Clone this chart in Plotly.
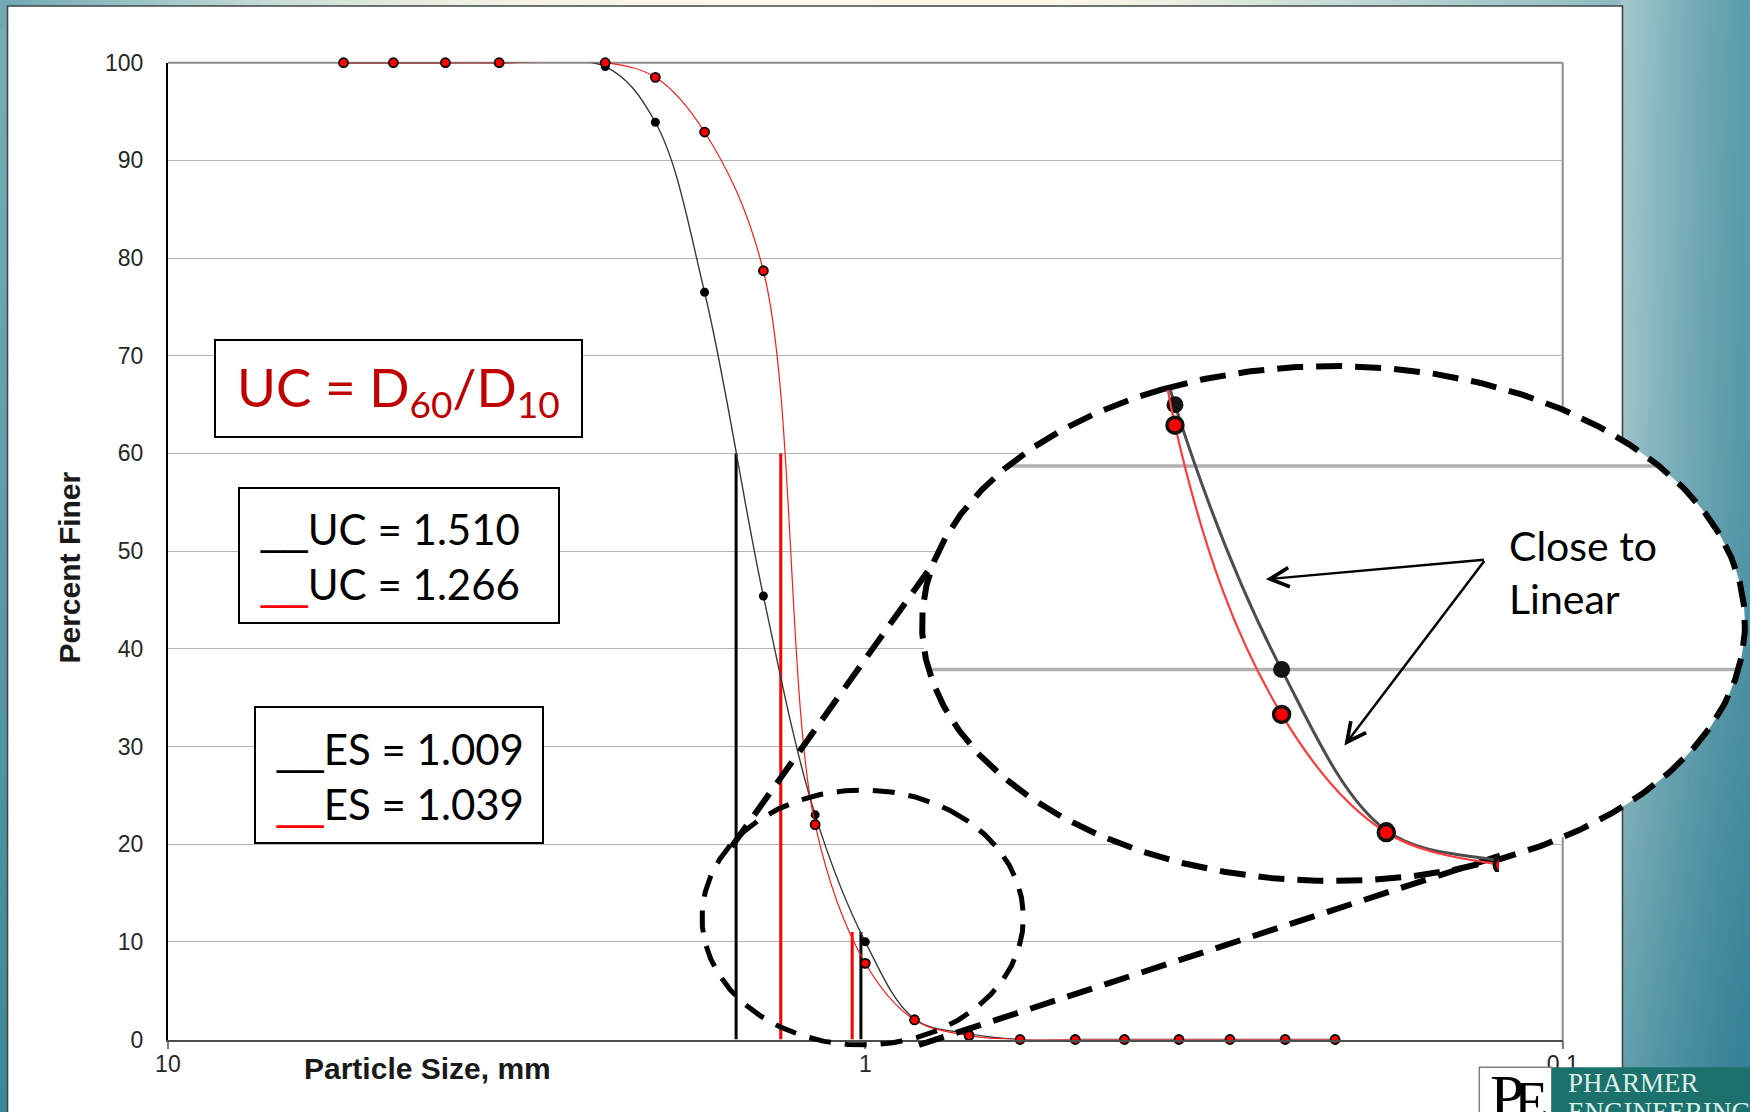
import base64
import struct
import zlib

import numpy as np
import plotly.graph_objects as go

# ---------------------------------------------------------------------------
# Sieve analysis data (particle size in mm, cumulative percent finer)
# ---------------------------------------------------------------------------
sieve_mm = [5.6, 4.75, 4.0, 3.35, 2.36, 2.0, 1.7, 1.4, 1.18, 1.0,
            0.85, 0.71, 0.6, 0.5, 0.425, 0.355, 0.3, 0.25, 0.212]
finer_black = [100, 100, 100, 100, 99.6, 93.9, 76.5, 45.4, 23.0, 10.0,
               2.1, 0.6, 0, 0, 0, 0, 0, 0, 0]
finer_red = [100, 100, 100, 100, 100, 98.5, 92.9, 78.7, 22.0, 7.8,
             2.0, 0.4, 0, 0, 0, 0, 0, 0, 0]

# uniformity coefficient UC = D60 / D10 and the ES values
uc_black, uc_red = 1.510, 1.266
es_black, es_red = 1.009, 1.039
d60_black, d60_red = 1.532, 1.322
d10_black, d10_red = d60_black / uc_black, d60_red / uc_red
d60_level, d10_level = 60, 11

x_tickvals = [10, 1, 0.1]
x_ticktext = ["10", "1", "0.1"]
y_tickvals = list(range(0, 101, 10))

# ---------------------------------------------------------------------------
# Page geometry (pixels) and helpers to paper coordinates
# ---------------------------------------------------------------------------
W, H = 1750, 1112


def px(x):
    return x / W


def py(y):
    return 1 - y / H


PLOT_L, PLOT_R, PLOT_T, PLOT_B = 167.9, 1562.7, 62.7, 1039.5
PPD = (PLOT_R - PLOT_L) / 2          # pixels per decade, main chart
PPP = (PLOT_B - PLOT_T) / 100        # pixels per percent, main chart

# magnified view: scale factors, anchor (1 mm -> x px, 10 % -> y px), clip box
MAG_X, MAG_Y = 2.127, 2.085
ZOOM_X1MM, ZOOM_Y10 = 1281.6, 669.6
ZL, ZR, ZT, ZB = 1000, 1499, 390, 872
ppd_z, ppp_z = PPD * MAG_X, PPP * MAG_Y
x3_range = [(ZOOM_X1MM - ZL) / ppd_z, (ZOOM_X1MM - ZR) / ppd_z]
y3_range = [10 - (ZB - ZOOM_Y10) / ppp_z, 10 + (ZOOM_Y10 - ZT) / ppp_z]

# callout ellipses and connector lines (pixel space)
BIG = (1333.5, 623.5, 411.5, 257.5)
SMALL = (862.7, 917.5, 160.7, 127.5)
CONNECTORS = [((731.6, 846.7), (933.0, 564.0)), ((919.0, 1045.0), (1502.0, 855.0))]


# ---------------------------------------------------------------------------
# Slide background gradient rendered to a small PNG
# ---------------------------------------------------------------------------
def png_data_uri(rgb):
    h, w, _ = rgb.shape
    a = rgb.astype(np.int16)
    f = a.copy()
    f[:, 1:, :] = (a[:, 1:, :] - a[:, :-1, :]) % 256
    rows = np.concatenate([np.ones((h, 1), np.uint8),
                           f.astype(np.uint8).reshape(h, w * 3)], axis=1)

    def chunk(tag, data):
        return (struct.pack(">I", len(data)) + tag + data
                + struct.pack(">I", zlib.crc32(tag + data) & 0xFFFFFFFF))

    png = (b"\x89PNG\r\n\x1a\n"
           + chunk(b"IHDR", struct.pack(">IIBBBBB", w, h, 8, 2, 0, 0, 0))
           + chunk(b"IDAT", zlib.compress(rows.tobytes(), 9))
           + chunk(b"IEND", b""))
    return "data:image/png;base64," + base64.b64encode(png).decode()


def interp_rgb(t, stops_t, stops_c):
    c = np.array(stops_c, float)
    return np.stack([np.interp(t, stops_t, c[:, k]) for k in range(3)], axis=-1)


bw, bh = 350, 224
ys, xs = np.mgrid[0:bh, 0:bw]
X = (xs + 0.5) * W / bw
Y = (ys + 0.5) * H / bh

top_field = interp_rgb(
    X, [0, 134, 268, 402, 535, 700, 1050, 1191, 1383, 1574, 1622],
    [(112, 169, 180), (153, 195, 196), (199, 220, 214), (230, 236, 224),
     (245, 244, 229), (251, 248, 233), (253, 250, 234), (232, 238, 224),
     (188, 214, 211), (152, 193, 197), (138, 184, 191)])
left_field = interp_rgb(Y, [0, 1112], [(122, 176, 184), (60, 136, 154)])
v = Y / H
u = np.clip((X - 1622) / 128, 0, 1)[..., None]
light = interp_rgb(v, [0, 0.45, 1], [(166, 201, 205), (158, 196, 201), (96, 158, 172)])
dark = interp_rgb(v, [0, 0.45, 1], [(92, 158, 173), (86, 152, 168), (52, 128, 148)])
right_field = dark + (light - dark) * (1 - u) ** 1.3

bg = np.where((X >= 1622)[..., None], right_field,
              np.where((Y < 30)[..., None], top_field, left_field))
bg_uri = png_data_uri(np.clip(bg, 0, 255).astype(np.uint8))

# ---------------------------------------------------------------------------
# Figure
# ---------------------------------------------------------------------------
fig = go.Figure()

# D60 / D10 indicator lines
for d, top, col in [(d60_black, d60_level, "black"), (d10_black, d10_level, "black"),
                    (d60_red, d60_level, "#ff0000"), (d10_red, d10_level, "#ff0000")]:
    fig.add_trace(go.Scatter(x=[d, d], y=[0, top], mode="lines",
                             line=dict(color=col, width=3),
                             xaxis="x", yaxis="y", hoverinfo="skip", showlegend=False))

# gradation curves
fig.add_trace(go.Scatter(
    x=sieve_mm, y=finer_black, mode="lines+markers", cliponaxis=False,
    line=dict(color="#3a3a3a", width=1.4, shape="spline", smoothing=1.0),
    marker=dict(color="black", size=9),
    xaxis="x", yaxis="y", hoverinfo="skip", showlegend=False))
fig.add_trace(go.Scatter(
    x=sieve_mm, y=finer_red, mode="lines+markers", cliponaxis=False,
    line=dict(color="#ff1a1a", width=1.2, shape="spline", smoothing=1.0),
    marker=dict(color="#ff0000", size=9, line=dict(color="black", width=1.8)),
    xaxis="x", yaxis="y", hoverinfo="skip", showlegend=False))

# callout overlay drawn in pixel space (x2/y2)
t = np.linspace(0, 2 * np.pi, 721)


def ellipse(e, start=0.0):
    cx, cy, rx, ry = e
    return cx + rx * np.cos(t + start), cy + ry * np.sin(t + start)


ex, ey = ellipse(BIG)
fig.add_trace(go.Scatter(x=ex, y=ey, mode="lines", fill="toself", fillcolor="white",
                         line=dict(width=0, color="white"),
                         xaxis="x2", yaxis="y2", hoverinfo="skip", showlegend=False))

# magnified gridlines (10 % and 20 %) cut to the ellipse
gx, gy = [], []
cx, cy, rx, ry = BIG
for g in (10, 20):
    yy = ZOOM_Y10 - (g - 10) * ppp_z
    half = rx * np.sqrt(max(0.0, 1 - ((yy - cy) / ry) ** 2)) - 3
    gx += [cx - half, cx + half, None]
    gy += [yy, yy, None]
fig.add_trace(go.Scatter(x=gx, y=gy, mode="lines", line=dict(color="#b0b0b0", width=3.5),
                         xaxis="x2", yaxis="y2", hoverinfo="skip", showlegend=False))

ex, ey = ellipse(BIG, start=-2.0)
fig.add_trace(go.Scatter(x=ex, y=ey, mode="lines",
                         line=dict(color="black", width=6, dash="26px,13px"),
                         xaxis="x2", yaxis="y2", hoverinfo="skip", showlegend=False))
sx, sy = ellipse(SMALL, start=-1.0)
fig.add_trace(go.Scatter(x=sx, y=sy, mode="lines",
                         line=dict(color="black", width=5, dash="22px,14px"),
                         xaxis="x2", yaxis="y2", hoverinfo="skip", showlegend=False))
for (x0, y0), (x1, y1) in CONNECTORS:
    fig.add_trace(go.Scatter(x=[x0, x1], y=[y0, y1], mode="lines",
                             line=dict(color="black", width=6, dash="26px,13px"),
                             xaxis="x2", yaxis="y2", hoverinfo="skip", showlegend=False))

# magnified curves (x3/y3)
fig.add_trace(go.Scatter(
    x=sieve_mm, y=finer_black, mode="lines+markers",
    line=dict(color="#4d4d4d", width=3, shape="spline", smoothing=1.0),
    marker=dict(color="#141414", size=17),
    xaxis="x3", yaxis="y3", hoverinfo="skip", showlegend=False))
fig.add_trace(go.Scatter(
    x=sieve_mm, y=finer_red, mode="lines+markers",
    line=dict(color="#ff3b3b", width=2.2, shape="spline", smoothing=1.0),
    marker=dict(color="#ff0000", size=16, line=dict(color="#111111", width=3.5)),
    xaxis="x3", yaxis="y3", hoverinfo="skip", showlegend=False))

# ---------------------------------------------------------------------------
# Shapes: slide panel, plot frame, text boxes, logo
# ---------------------------------------------------------------------------
shapes = [
    dict(type="rect", xref="paper", yref="paper", layer="below",
         x0=px(7.5), x1=px(1622.5), y0=py(1125), y1=py(6),
         fillcolor="white", line=dict(color="#3f4748", width=1.6)),
    dict(type="line", xref="paper", yref="paper", layer="below",
         x0=px(PLOT_L), x1=px(PLOT_R), y0=py(PLOT_T), y1=py(PLOT_T),
         line=dict(color="#8c8c8c", width=2)),
    dict(type="line", xref="paper", yref="paper", layer="below",
         x0=px(PLOT_R), x1=px(PLOT_R), y0=py(PLOT_B + 7), y1=py(PLOT_T),
         line=dict(color="#8c8c8c", width=2)),
]


def box(x0, y0, x1, y1):
    return dict(type="rect", xref="paper", yref="paper", layer="above",
                x0=px(x0), x1=px(x1), y0=py(y1), y1=py(y0),
                fillcolor="white", line=dict(color="black", width=2))


shapes += [box(215, 340, 582, 437), box(239, 488, 559, 623), box(255, 707, 543, 843)]
shapes += [
    dict(type="rect", xref="paper", yref="paper", layer="above",
         x0=px(1479.3), x1=px(1551.7), y0=py(1130), y1=py(1067.3),
         fillcolor="white", line=dict(color="#7f7f7f", width=1.5)),
    dict(type="rect", xref="paper", yref="paper", layer="above",
         x0=px(1551.7), x1=px(1760), y0=py(1130), y1=py(1067.3),
         fillcolor="#1d716d", line=dict(width=0)),
]

# ---------------------------------------------------------------------------
# Annotations
# ---------------------------------------------------------------------------
CAL = "Lato, Carlito, sans-serif"
ARIAL = "Liberation Sans, Arial, sans-serif"
SERIF = "Liberation Serif, Times New Roman, serif"


def swatch(color):
    return f"<span style='font-family:Liberation Sans;color:{color}'>__</span>"


ann = [
    dict(text="<b>Percent Finer</b>", x=px(69), y=py(567.5), textangle=-90,
         font=dict(family=ARIAL, size=30, color="#1a1a1a")),
    dict(text="<b>Particle Size, mm</b>", x=px(427.5), y=py(1068.5),
         font=dict(family=ARIAL, size=30, color="#1a1a1a")),
    dict(text="UC = D<sub>60</sub>/D<sub>10</sub>", x=px(398.5), y=py(391),
         font=dict(family=CAL, size=53, color="#c00000")),
    dict(text=(f"{swatch('black')}UC = {uc_black:.3f}<br>"
               f"{swatch('#ff0000')}UC = {uc_red:.3f}"),
         x=px(258), y=py(556), xanchor="left", align="left",
         font=dict(family=CAL, size=42, color="black")),
    dict(text=(f"{swatch('black')}ES = {es_black:.3f}<br>"
               f"{swatch('#ff0000')}ES = {es_red:.3f}"),
         x=px(274), y=py(776), xanchor="left", align="left",
         font=dict(family=CAL, size=42, color="black")),
    dict(text="Close to<br>Linear", x=px(1507), y=py(572), xanchor="left", align="left",
         font=dict(family=CAL, size=41, color="black")),
    dict(text="PHARMER", x=px(1566), y=py(1083), xanchor="left",
         font=dict(family=SERIF, size=27, color="#dcefe9")),
    dict(text="ENGINEERING", x=px(1566), y=py(1112), xanchor="left",
         font=dict(family=SERIF, size=27, color="#dcefe9")),
    dict(text="P", x=px(1488), y=py(1096), xanchor="left",
         font=dict(family=SERIF, size=62, color="black")),
    dict(text="E", x=px(1512), y=py(1102), xanchor="left",
         font=dict(family=SERIF, size=56, color="black")),
]
for a in ann:
    a.setdefault("xref", "paper")
    a.setdefault("yref", "paper")
    a.setdefault("showarrow", False)
    a.setdefault("xanchor", "center")
    a.setdefault("yanchor", "middle")

tail = (1485.4, 559.6)
for head in [(1265.9, 579.3), (1344.4, 745.4)]:
    ann.append(dict(text="", xref="paper", yref="paper", x=px(head[0]), y=py(head[1]),
                    ax=tail[0] - head[0], ay=tail[1] - head[1], axref="pixel", ayref="pixel",
                    showarrow=True, arrowhead=5, arrowsize=1.5, arrowwidth=2.5,
                    arrowcolor="black", standoff=0))

# ---------------------------------------------------------------------------
# Layout
# ---------------------------------------------------------------------------
fig.update_layout(
    width=W, height=H, autosize=False,
    margin=dict(l=0, r=0, t=0, b=0, pad=0, autoexpand=False),
    paper_bgcolor="#5f9fae", plot_bgcolor="rgba(0,0,0,0)",
    hovermode=False, showlegend=False,
    images=[dict(source=bg_uri, xref="paper", yref="paper", x=0, y=1, sizex=1, sizey=1,
                 xanchor="left", yanchor="top", sizing="stretch", layer="below")],
    shapes=shapes,
    annotations=ann,
    xaxis=dict(type="log", range=[1, -1], domain=[px(PLOT_L), px(PLOT_R)], anchor="y",
               tickvals=x_tickvals, ticktext=x_ticktext, ticks="outside", ticklen=7,
               tickwidth=1.5, tickcolor="#7f7f7f", ticklabelstandoff=-4,
               showline=True, linecolor="#4d4d4d", linewidth=2,
               showgrid=False, zeroline=False, fixedrange=True, automargin=False,
               tickfont=dict(family=ARIAL, size=23, color="#262626")),
    yaxis=dict(range=[0, 100], domain=[py(PLOT_B), py(PLOT_T)], anchor="x",
               tickvals=y_tickvals, ticks="", ticklabelstandoff=18,
               showline=True, linecolor="black", linewidth=2,
               showgrid=True, gridcolor="#b4b4b4", gridwidth=1.3,
               zeroline=False, fixedrange=True, automargin=False,
               tickfont=dict(family=ARIAL, size=23, color="#262626")),
    xaxis2=dict(range=[0, W], domain=[0, 1], anchor="y2", visible=False, fixedrange=True),
    yaxis2=dict(range=[H, 0], domain=[0, 1], anchor="x2", visible=False, fixedrange=True),
    xaxis3=dict(type="log", range=x3_range, domain=[px(ZL), px(ZR)], anchor="y3",
                visible=False, fixedrange=True),
    yaxis3=dict(range=y3_range, domain=[py(ZB), py(ZT)], anchor="x3",
                visible=False, fixedrange=True),
)

fig.write_html("out.html")
